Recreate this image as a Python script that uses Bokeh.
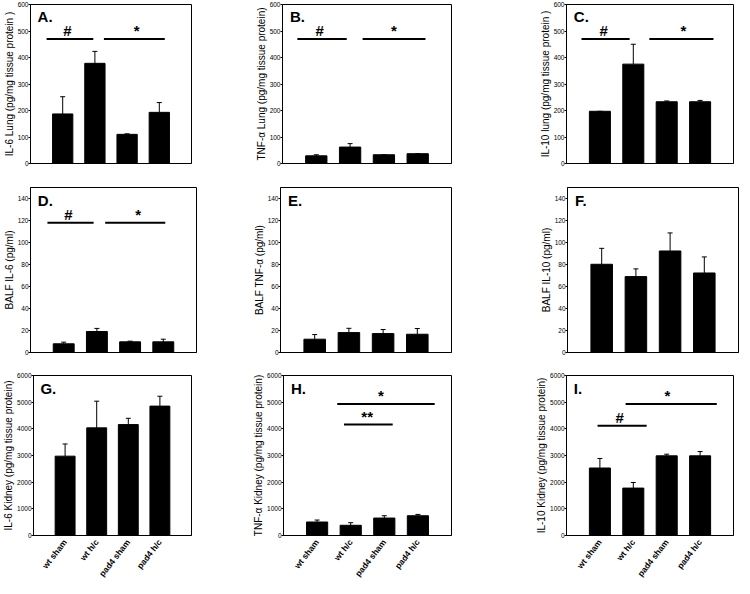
import math
from bokeh.plotting import figure
from bokeh.layouts import column, row
from bokeh.models import ColumnDataSource, Whisker, TeeHead, FixedTicker, Range1d
from bokeh.core.properties import value
from bokeh.embed import file_html
from bokeh.resources import INLINE

categories = ["wt sham", "wt h/c", "pad4 sham", "pad4 h/c"]

ticks_lung = [0, 100, 200, 300, 400, 500, 600]
ticks_balf = [0, 20, 40, 60, 80, 100, 120, 140]
ticks_kidney = [0, 1000, 2000, 3000, 4000, 5000, 6000]

il6_lung = [187, 378, 110, 193]
il6_lung_err = [65, 45, 2, 37]
tnf_lung = [29, 62, 33, 37]
tnf_lung_err = [4, 13, 0, 0]
il10_lung = [197, 375, 233, 233]
il10_lung_err = [0, 75, 3, 5]

balf_il6 = [7.9, 19.1, 9.7, 9.7]
balf_il6_err = [1.5, 2.8, 0.6, 2.4]
balf_tnf = [12.1, 18.1, 17.2, 16.6]
balf_tnf_err = [4.2, 3.9, 3.7, 5.2]
balf_il10 = [80.2, 69.0, 92.3, 72.3]
balf_il10_err = [14.5, 7.0, 16.4, 14.6]

il6_kidney = [2975, 4037, 4160, 4852]
il6_kidney_err = [457, 1000, 235, 370]
tnf_kidney = [506, 383, 654, 741]
tnf_kidney_err = [74, 98, 87, 49]
il10_kidney = [2531, 1778, 2988, 2988]
il10_kidney_err = [358, 210, 61, 160]

# significance bars: x0, x1, y, symbol, symbol x
sig_A = [(0.5, 1.95, 470, "#", 1.15), (2.28, 4.17, 470, "*", 3.3)]
sig_B = [(0.44, 1.9, 470, "#", 1.1), (2.37, 4.23, 470, "*", 3.3)]
sig_C = [(0.45, 1.89, 470, "#", 1.11), (2.48, 4.4, 470, "*", 3.5)]
sig_D = [(0.51, 1.9, 118, "#", 1.14), (2.25, 4.06, 118, "*", 3.24)]
sig_E = []
sig_F = []
sig_G = []
sig_H = [(1.6, 4.5, 4930, "*", 2.9), (1.8, 3.25, 4160, "**", 2.49)]
sig_I = [(0.93, 2.4, 4120, "#", 1.59), (1.77, 4.5, 4930, "*", 3.02)]

FONT = value("Liberation Sans")


def make_panel(letter, ylabel, vals, errs, yticks, ymax, sigs, geom, show_x):
    w, h, bl, br, bt, bb = geom
    n = len(categories)
    p = figure(width=w, height=h, x_range=Range1d(0, n + 1), y_range=Range1d(0, ymax),
               output_backend="svg", toolbar_location=None,
               min_border_left=bl, min_border_right=br, min_border_top=bt, min_border_bottom=bb)
    xs = list(range(1, n + 1))
    src = ColumnDataSource(dict(x=xs, top=vals, upper=[v + e for v, e in zip(vals, errs)]))
    p.vbar(x="x", top="top", width=0.63, source=src, fill_color="black", line_color="black")
    wk = Whisker(source=src, base="x", lower="top", upper="upper", dimension="height",
                 line_color="black", line_width=1,
                 upper_head=TeeHead(size=5, line_color="black", line_width=1), lower_head=None)
    p.add_layout(wk)
    if sigs:
        p.segment(x0=[s[0] for s in sigs], y0=[s[2] for s in sigs],
                  x1=[s[1] for s in sigs], y1=[s[2] for s in sigs],
                  line_color="black", line_width=2)
        p.text(x=[s[4] for s in sigs], y=[s[2] for s in sigs], text=[s[3] for s in sigs],
               text_font=FONT, text_font_style="bold", text_font_size="15px",
               text_align="center", text_baseline="bottom", text_color="black")
    p.text(x=[0.22], y=[ymax * 0.975], text=[letter], text_font=FONT, text_font_style="bold",
           text_font_size="15px", text_align="left", text_baseline="top", text_color="black")

    p.xaxis.axis_line_color = "black"
    p.xaxis.major_tick_out = 0
    p.xaxis.major_tick_in = 0
    p.xaxis.minor_tick_out = 0
    p.xaxis.minor_tick_in = 0
    if show_x:
        p.xaxis.ticker = FixedTicker(ticks=xs)
        p.xaxis.major_label_overrides = {x: c for x, c in zip(xs, categories)}
        p.xaxis.major_label_orientation = math.radians(52)
        p.xaxis.major_label_text_font = "Liberation Sans"
        p.xaxis.major_label_text_font_style = "bold"
        p.xaxis.major_label_text_font_size = "8.5px"
        p.xaxis.major_label_text_color = "black"
        p.xaxis.major_label_standoff = 5
    else:
        p.xaxis.ticker = FixedTicker(ticks=[])
        p.xaxis.major_label_standoff = 0

    p.yaxis.ticker = FixedTicker(ticks=yticks)
    p.yaxis.axis_label = ylabel
    p.yaxis.axis_label_text_font = "Liberation Sans"
    p.yaxis.axis_label_text_font_style = "normal"
    p.yaxis.axis_label_text_font_size = "10px"
    p.yaxis.axis_label_text_color = "black"
    p.yaxis.axis_label_standoff = 0
    p.yaxis.major_label_text_font = "Liberation Sans"
    p.yaxis.major_label_text_font_size = "6.5px"
    p.yaxis.major_label_text_color = "black"
    p.yaxis.major_label_standoff = 0
    p.yaxis.major_tick_out = 2
    p.yaxis.major_tick_in = 0
    p.yaxis.minor_tick_out = 0
    p.yaxis.minor_tick_in = 0
    p.yaxis.axis_line_color = "black"

    p.grid.visible = False
    p.outline_line_color = "black"
    p.outline_line_width = 1
    p.background_fill_color = "white"
    p.border_fill_color = "white"
    return p


# geometry: width, height, left, right, top, bottom borders
pA = make_panel("A.", "IL-6 Lung (pg/mg tissue protein )", il6_lung, il6_lung_err, ticks_lung, 600, sig_A,
                (250, 175, 22, 59, 4, 12), False)
pB = make_panel("B.", "TNF-α Lung (pg/mg tissue protein)", tnf_lung, tnf_lung_err, ticks_lung, 600, sig_B,
                (250, 175, 32, 49, 4, 12), False)
pC = make_panel("C.", "IL-10 lung (pg/mg tissue protein )", il10_lung, il10_lung_err, ticks_lung, 600, sig_C,
                (240, 175, 66, 7, 4, 12), False)

pD = make_panel("D.", "BALF IL-6 (pg/ml)", balf_il6, balf_il6_err, ticks_balf, 150, sig_D,
                (250, 187, 20, 54, 12, 10), False)
pE = make_panel("E.", "BALF TNF-α (pg/ml)", balf_tnf, balf_tnf_err, ticks_balf, 150, sig_E,
                (250, 187, 30, 49, 12, 10), False)
pF = make_panel("F.", "BALF IL-10 (pg/ml)", balf_il10, balf_il10_err, ticks_balf, 150, sig_F,
                (240, 187, 67, 2, 12, 10), False)

pG = make_panel("G.", "IL-6 Kidney (pg/mg tissue protein)", il6_kidney, il6_kidney_err, ticks_kidney, 6000, sig_G,
                (250, 222, 23, 59, 13, 46), True)
pH = make_panel("H.", "TNF-α Kidney (pg/mg tissue protein)", tnf_kidney, tnf_kidney_err, ticks_kidney, 6000, sig_H,
                (250, 222, 32, 49, 13, 46), True)
pI = make_panel("I.", "IL-10 Kidney (pg/mg tissue protein)", il10_kidney, il10_kidney_err, ticks_kidney, 6000, sig_I,
                (240, 222, 66, 7, 13, 46), True)

layout = column(row(pA, pB, pC, spacing=0), row(pD, pE, pF, spacing=0),
                row(pG, pH, pI, spacing=0), spacing=0)

open("out.html", "w").write(file_html(layout, INLINE))
